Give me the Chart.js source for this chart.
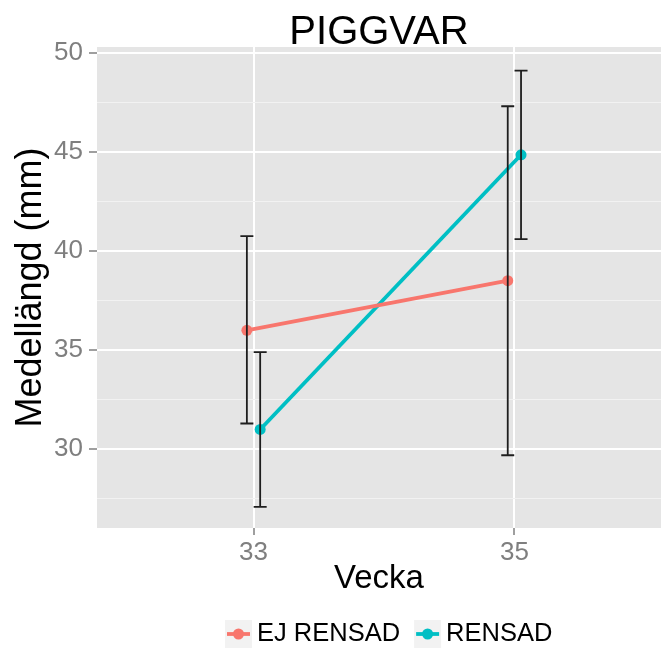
<!DOCTYPE html>
<html>
<head>
<meta charset="utf-8">
<script src="https://cdn.jsdelivr.net/npm/chart.js@4.4.0/dist/chart.umd.min.js"></script>
<style>
  html, body { margin: 0; padding: 0; background: #fff; }
  #wrap { width: 661px; height: 648px; }
</style>
</head>
<body>
<div id="wrap"><canvas id="chart" width="661" height="648"></canvas></div>
<script>
const weeks = [33, 35];
const xTicks = [33, 35];
const yMajor = [30, 35, 40, 45, 50];
const yMinor = [27.5, 32.5, 37.5, 42.5, 47.5];

const ejRensadMean = [36.0, 38.5];
const ejRensadLow = [31.3, 29.7];
const ejRensadHigh = [40.75, 47.3];

const rensadMean = [31.0, 44.85];
const rensadLow = [27.1, 40.6];
const rensadHigh = [34.9, 49.1];

const seriesNames = ['EJ RENSAD', 'RENSAD'];
const seriesColors = ['#F8766D', '#00BFC4'];
const dodge = [-0.051, 0.051];

const FONT = "'Liberation Sans', Arial, sans-serif";
const GREY = '#7F7F7F';

function makeSeries(idx, mean, low, high) {
  return {
    label: seriesNames[idx],
    data: weeks.map((w, i) => ({ x: w + dodge[idx], y: mean[i] })),
    low: low,
    high: high,
    borderColor: seriesColors[idx],
    backgroundColor: seriesColors[idx],
    pointBackgroundColor: seriesColors[idx],
    pointBorderWidth: 0,
    pointRadius: 5.5,
    borderWidth: 3.8,
    tension: 0,
  };
}

const panelBg = {
  id: 'panelBg',
  beforeDraw(chart) {
    const { ctx, chartArea: a } = chart;
    ctx.save();
    ctx.fillStyle = '#fff';
    ctx.fillRect(0, 0, chart.width, chart.height);
    ctx.fillStyle = '#E5E5E5';
    ctx.fillRect(a.left, a.top, a.right - a.left, a.bottom - a.top);
    ctx.restore();
  },
};

const errorBars = {
  id: 'errorBars',
  afterDatasetsDraw(chart) {
    const { ctx } = chart;
    const xs = chart.scales.x;
    const ys = chart.scales.y;
    ctx.save();
    ctx.strokeStyle = '#1E1E1E';
    ctx.lineWidth = 1.8;
    chart.data.datasets.forEach((ds, d) => {
      weeks.forEach((w, i) => {
        const x = xs.getPixelForValue(w + dodge[d]);
        const y1 = ys.getPixelForValue(ds.low[i]);
        const y2 = ys.getPixelForValue(ds.high[i]);
        ctx.beginPath();
        ctx.moveTo(x, y1);
        ctx.lineTo(x, y2);
        ctx.moveTo(x - 6.5, y1);
        ctx.lineTo(x + 6.5, y1);
        ctx.moveTo(x - 6.5, y2);
        ctx.lineTo(x + 6.5, y2);
        ctx.stroke();
      });
    });
    ctx.restore();
  },
};

const ggLegend = {
  id: 'ggLegend',
  afterDraw(chart) {
    const { ctx } = chart;
    const cy = 634;
    let x = 225;
    ctx.save();
    ctx.font = '25.5px ' + FONT;
    ctx.textBaseline = 'middle';
    ctx.textAlign = 'left';
    chart.data.datasets.forEach((ds, d) => {
      ctx.fillStyle = '#F2F2F2';
      ctx.fillRect(x, 620, 27, 28);
      ctx.strokeStyle = seriesColors[d];
      ctx.lineWidth = 3.8;
      ctx.beginPath();
      ctx.moveTo(x + 2, cy);
      ctx.lineTo(x + 25, cy);
      ctx.stroke();
      ctx.fillStyle = seriesColors[d];
      ctx.beginPath();
      ctx.arc(x + 13.5, cy, 5.5, 0, Math.PI * 2);
      ctx.fill();
      ctx.fillStyle = '#000';
      ctx.fillText(ds.label, x + 32, cy);
      x += 32 + ctx.measureText(ds.label).width + 14;
    });
    ctx.restore();
  },
};

new Chart(document.getElementById('chart').getContext('2d'), {
  type: 'line',
  data: {
    datasets: [
      makeSeries(0, ejRensadMean, ejRensadLow, ejRensadHigh),
      makeSeries(1, rensadMean, rensadLow, rensadHigh),
    ],
  },
  options: {
    responsive: false,
    animation: false,
    layout: { autoPadding: false, padding: { top: 0, left: 0, right: 0, bottom: 42 } },
    plugins: {
      legend: { display: false },
      tooltip: { enabled: false },
      title: {
        display: true,
        text: 'PIGGVAR',
        color: '#000',
        fullSize: false,
        font: { family: FONT, size: 40, weight: 'normal', lineHeight: 1 },
        padding: { top: 13, bottom: -6 },
      },
    },
    scales: {
      x: {
        type: 'linear',
        min: 31.8,
        max: 36.124,
        afterBuildTicks: (s) => { s.ticks = xTicks.map((v) => ({ value: v })); },
        afterFit: (s) => { s.height = 78; },
        ticks: {
          color: GREY,
          font: { family: FONT, size: 26 },
          padding: 2,
          autoSkip: false,
          maxRotation: 0,
          callback: (v) => String(v),
        },
        grid: {
          color: '#FFFFFF',
          lineWidth: 2,
          tickLength: 7,
          tickColor: GREY,
          tickWidth: 1.5,
        },
        border: { display: false },
        title: {
          display: true,
          text: 'Vecka',
          color: '#000',
          font: { family: FONT, size: 33, lineHeight: 1 },
          padding: { top: 0, bottom: 11 },
        },
      },
      y: {
        type: 'linear',
        min: 26.03,
        max: 50.287,
        afterBuildTicks: (s) => {
          s.ticks = yMinor.concat(yMajor).sort((a, b) => a - b).map((v) => ({ value: v }));
        },
        afterFit: (s) => { s.width = 97; },
        ticks: {
          color: GREY,
          font: { family: FONT, size: 26 },
          padding: 6,
          autoSkip: false,
          callback: (v) => (yMajor.includes(v) ? String(v) : ''),
        },
        grid: {
          color: (c) => (yMajor.includes(c.tick.value) ? '#FFFFFF' : '#F2F2F2'),
          lineWidth: (c) => (yMajor.includes(c.tick.value) ? 2 : 1),
          tickLength: 8,
          tickColor: (c) => (yMajor.includes(c.tick.value) ? GREY : 'rgba(0,0,0,0)'),
          tickWidth: 1.5,
        },
        border: { display: false },
        title: {
          display: true,
          text: 'Medellängd (mm)',
          color: '#000',
          font: { family: FONT, size: 36, lineHeight: 1 },
          padding: { top: 13, bottom: 0 },
        },
      },
    },
  },
  plugins: [panelBg, errorBars, ggLegend],
});
</script>
</body>
</html>
